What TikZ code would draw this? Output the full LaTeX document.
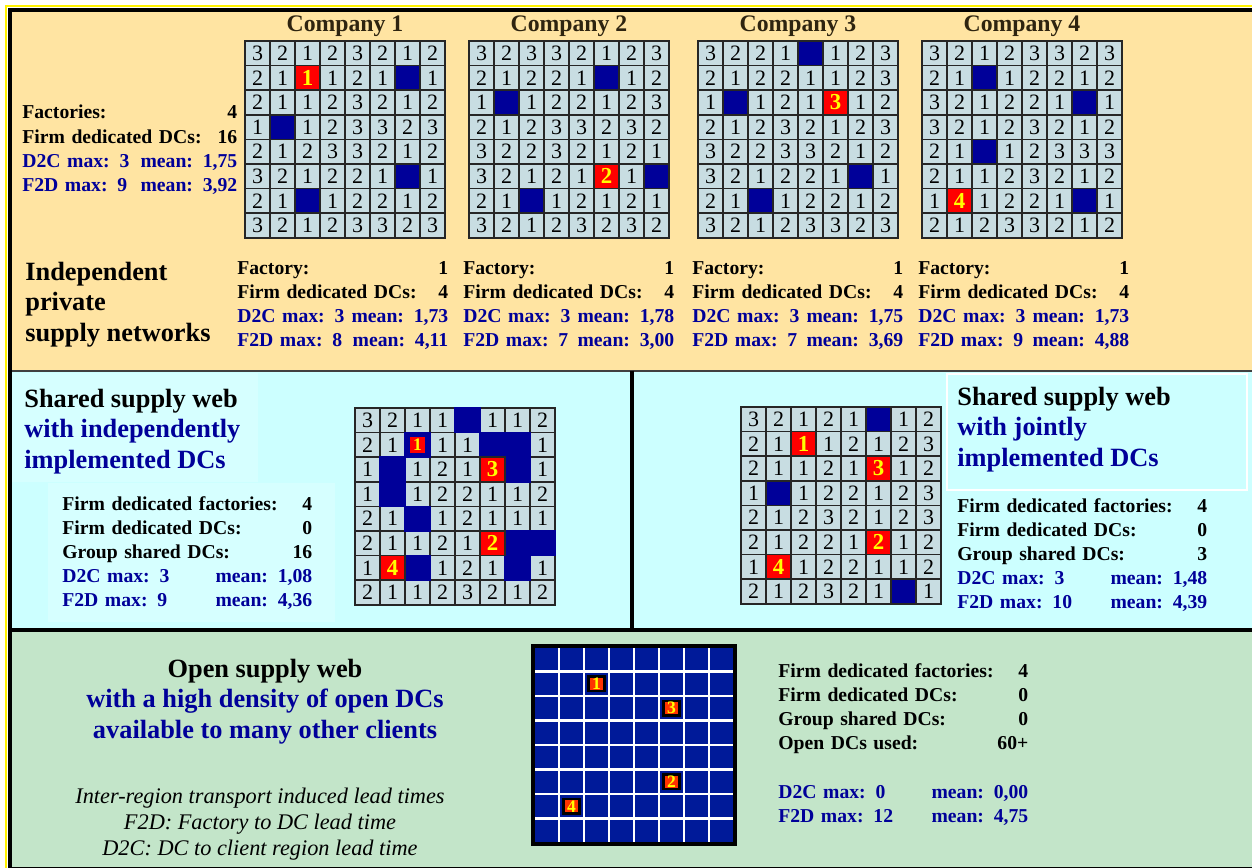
\documentclass[tikz,border=0pt]{standalone}
\usepackage{fontspec}
\setmainfont{Liberation Serif}
\usetikzlibrary{positioning}

\definecolor{topbg}{HTML}{FFE4A2}
\definecolor{midbg}{HTML}{CCFFFF}
\definecolor{midlight}{HTML}{D6FFFF}
\definecolor{botbg}{HTML}{C3E5C9}
\definecolor{cellgray}{HTML}{C8DDE2}
\definecolor{dcblue}{HTML}{000099}
\definecolor{openblue}{HTML}{001A99}
\definecolor{navy}{HTML}{000099}
\definecolor{factred}{HTML}{FF0000}
\definecolor{openred}{HTML}{FF3300}
\definecolor{factyellow}{HTML}{FFFF00}
\definecolor{titlebrown}{HTML}{2E2410}

\tikzset{
    cell/.style = {
        draw=black!85,
        shape=rectangle,
        minimum width=0.5cm,
        minimum height=0.492cm,
        inner sep=0pt,
        line width=0.9pt,
        fill=cellgray,
        font=\fontsize{12.5}{12.5}\selectfont
    },
    dc/.style = {
        cell,
        fill=dcblue
    },
    mergeddc/.style = {
        cell,
        fill=dcblue,
        draw=dcblue
    },
    factory/.style = {
        cell,
        fill=factred,
        text=factyellow,
        font=\bfseries\fontsize{13}{13}\selectfont
    },
    smallfactory/.style = {
        shape=rectangle,
        fill=factred,
        text=factyellow,
        minimum width=0.3cm,
        minimum height=0.32cm,
        inner sep=0pt,
        font=\bfseries\fontsize{10}{10}\selectfont
    },
    opencell/.style = {
        draw=white,
        shape=rectangle,
        line width=1.2pt,
        fill=openblue,
        minimum width=0.5cm,
        minimum height=0.49cm,
        inner sep=0pt
    },
    openfactory/.style = {
        draw=black,
        shape=rectangle,
        line width=1.2pt,
        fill=openred,
        text=factyellow,
        minimum width=0.32cm,
        minimum height=0.29cm,
        inner sep=0pt,
        font=\bfseries\fontsize{10}{10}\selectfont
    },
    company/.style = {
        font=\bfseries\fontsize{13.5}{13.5}\selectfont,
        text=titlebrown,
        inner sep=0pt
    },
    stats/.style = {
        font=\bfseries\fontsize{11.2}{13.8}\selectfont,
        align=left,
        inner sep=0pt,
        anchor=north west
    },
    heading/.style = {
        font=\bfseries\fontsize{15}{17.5}\selectfont,
        align=left,
        inner sep=0pt,
        anchor=north west
    },
    note/.style = {
        font=\itshape\fontsize{12.7}{14.8}\selectfont,
        align=center,
        inner sep=0pt,
        anchor=north
    },
}

% one 8x8 map of regions: name, top left corner, rows (0 = no number), DC cells, DC style
\newcommand{\dcgrid}[5]{%
  \begin{scope}[shift={#2}]
    \foreach \cells [count=\ro] in {#3} {
      \foreach \v [count=\co] in \cells {
        \node[cell] (#1-\ro-\co) at (\co*25-12.5, \ro*24.6-12.3) {\ifnum\v=0 \else\v\fi};
      }
    }
    \foreach \co/\ro in {#4} {
      \node[#5] (#1-\ro-\co) at (\co*25-12.5, \ro*24.6-12.3) {};
    }
  \end{scope}}

\begin{document}
\begin{tikzpicture}[x=0.02cm, y=-0.02cm]

            \useasboundingbox (0,0) rectangle (1252,868);
            \fill[white] (0,0) rectangle (1252,868);
            \fill[topbg] (10,10) rectangle (1252,371);
            \fill[midbg] (10,371) rectangle (1252,630);
            \fill[botbg] (10,630) rectangle (1252,868);
            \fill[midlight] (12,373) rectangle (258,482);
            \fill[midlight] (48,483) rectangle (335,622);
            \draw[white, line width=1pt] (947,374) rectangle (1247,490);

            % independent networks
            \node[company] (title_a) at (345,26) {Company 1};
            \node[company] (title_b) at (569,26) {Company 2};
            \node[company] (title_c) at (798,26) {Company 3};
            \node[company] (title_d) at (1022,26) {Company 4};

            \dcgrid{coa}{(245,41)}{{3,2,1,2,3,2,1,2},{2,1,0,1,2,1,0,1},{2,1,1,2,3,2,1,2},{1,0,1,2,3,3,2,3},{2,1,2,3,3,2,1,2},{3,2,1,2,2,1,0,1},{2,1,0,1,2,2,1,2},{3,2,1,2,3,3,2,3}}{7/2,2/4,7/6,3/7}{dc}
            \dcgrid{cob}{(469,41)}{{3,2,3,3,2,1,2,3},{2,1,2,2,1,0,1,2},{1,0,1,2,2,1,2,3},{2,1,2,3,3,2,3,2},{3,2,2,3,2,1,2,1},{3,2,1,2,1,0,1,0},{2,1,0,1,2,1,2,1},{3,2,1,2,3,2,3,2}}{6/2,2/3,8/6,3/7}{dc}
            \dcgrid{coc}{(698,41)}{{3,2,2,1,0,1,2,3},{2,1,2,2,1,1,2,3},{1,0,1,2,1,0,1,2},{2,1,2,3,2,1,2,3},{3,2,2,3,3,2,1,2},{3,2,1,2,2,1,0,1},{2,1,0,1,2,2,1,2},{3,2,1,2,3,3,2,3}}{5/1,2/3,7/6,3/7}{dc}
            \dcgrid{cod}{(922,41)}{{3,2,1,2,3,3,2,3},{2,1,0,1,2,2,1,2},{3,2,1,2,2,1,0,1},{3,2,1,2,3,2,1,2},{2,1,0,1,2,3,3,3},{2,1,1,2,3,2,1,2},{1,0,1,2,2,1,0,1},{2,1,2,3,3,2,1,2}}{3/2,7/3,3/5,7/7}{dc}

            \node[factory] (fac_a) at (coa-2-3) {1};
            \node[factory] (fac_b) at (cob-6-6) {2};
            \node[factory] (fac_c) at (coc-3-6) {3};
            \node[factory] (fac_d) at (cod-7-2) {4};

            \node[stats, text width=4.3cm] (total_stats) at (22,104.8) {Factories:\hfill 4\\ Firm dedicated DCs:\hfill 16\\ \textcolor{navy}{D2C max: 3~\hfill mean: 1,75}\\ \textcolor{navy}{F2D max: 9~\hfill mean: 3,92}};

            \node[heading] (independent) at (25,261.5) {Independent\\ private\\ supply networks};

            \node[stats, text width=4.22cm] (stats_a) at (237,260.8) {Factory:\hfill 1\\ Firm dedicated DCs:\hfill 4\\ \textcolor{navy}{D2C max: 3~\hfill mean: 1,73}\\ \textcolor{navy}{F2D max: 8~\hfill mean: 4,11}};
            \node[stats, text width=4.22cm] (stats_b) at (463,260.8) {Factory:\hfill 1\\ Firm dedicated DCs:\hfill 4\\ \textcolor{navy}{D2C max: 3~\hfill mean: 1,78}\\ \textcolor{navy}{F2D max: 7~\hfill mean: 3,00}};
            \node[stats, text width=4.22cm] (stats_c) at (692,260.8) {Factory:\hfill 1\\ Firm dedicated DCs:\hfill 4\\ \textcolor{navy}{D2C max: 3~\hfill mean: 1,75}\\ \textcolor{navy}{F2D max: 7~\hfill mean: 3,69}};
            \node[stats, text width=4.22cm] (stats_d) at (918,260.8) {Factory:\hfill 1\\ Firm dedicated DCs:\hfill 4\\ \textcolor{navy}{D2C max: 3~\hfill mean: 1,73}\\ \textcolor{navy}{F2D max: 9~\hfill mean: 4,88}};

            % shared web, independent DCs
            \node[heading] (shared_ind) at (24,388.5) {Shared supply web\\ \textcolor{navy}{with independently}\\ \textcolor{navy}{implemented DCs}};
            \node[stats, text width=5cm] (stats_ind) at (62,495.8) {Firm dedicated factories:\hfill 4\\ Firm dedicated DCs:\hfill 0\\ Group shared DCs:\hfill 16\\ \textcolor{navy}{D2C max: 3\hfill mean: 1,08}\\ \textcolor{navy}{F2D max: 9\hfill mean: 4,36}};

            \dcgrid{ind}{(355,408)}{{3,2,1,1,0,1,1,2},{2,1,0,1,1,0,0,1},{1,0,1,2,1,0,0,1},{1,0,1,2,2,1,1,2},{2,1,0,1,2,1,1,1},{2,1,1,2,1,0,0,0},{1,0,0,1,2,1,0,1},{2,1,1,2,3,2,1,2}}{5/1,3/2,6/2,7/2,2/3,7/3,2/4,3/5,7/6,8/6,3/7,7/7}{mergeddc}

            \node[smallfactory] (ind_f1) at (ind-2-3) {1};
            \node[factory] (ind_f3) at (ind-3-6) {3};
            \node[factory] (ind_f2) at (ind-6-6) {2};
            \node[factory] (ind_f4) at (ind-7-2) {4};

            % shared web, joint DCs
            \node[heading] (shared_joint) at (957,386.5) {Shared supply web\\ \textcolor{navy}{with jointly}\\ \textcolor{navy}{implemented DCs}};
            \node[stats, text width=5cm] (stats_joint) at (957,497.8) {Firm dedicated factories:\hfill 4\\ Firm dedicated DCs:\hfill 0\\ Group shared DCs:\hfill 3\\ \textcolor{navy}{D2C max: 3\hfill mean: 1,48}\\ \textcolor{navy}{F2D max: 10\hfill mean: 4,39}};

            \dcgrid{joint}{(741,407)}{{3,2,1,2,1,0,1,2},{2,1,0,1,2,1,2,3},{2,1,1,2,1,0,1,2},{1,0,1,2,2,1,2,3},{2,1,2,3,2,1,2,3},{2,1,2,2,1,0,1,2},{1,0,1,2,2,1,1,2},{2,1,2,3,2,1,0,1}}{6/1,2/4,7/8}{dc}

            \node[factory] (joint_f1) at (joint-2-3) {1};
            \node[factory] (joint_f3) at (joint-3-6) {3};
            \node[factory] (joint_f2) at (joint-6-6) {2};
            \node[factory] (joint_f4) at (joint-7-2) {4};

            % open web
            \node[heading, align=center, anchor=north] (open_web) at (265,658.5) {Open supply web\\ \textcolor{navy}{with a high density of open DCs}\\ \textcolor{navy}{available to many other clients}};
            \node[note] (lead_times) at (260,788) {Inter-region transport induced lead times\\ F2D: Factory to DC lead time\\ D2C: DC to client region lead time};

            \begin{scope}[shift={(534,647)}]
                \foreach \ro in {1,...,8}
                    \foreach \co in {1,...,8}
                        \node[opencell] (op-\ro-\co) at (\co*25-12.5, \ro*24.5-12.25) {};
            \end{scope}
            \draw[line width=1.8pt] (op-1-1.north west) rectangle (op-8-8.south east);

            \node[openfactory] (op_f1) at (op-2-3) {1};
            \node[openfactory] (op_f3) at (op-3-6) {3};
            \node[openfactory] (op_f2) at (op-6-6) {2};
            \node[openfactory] (op_f4) at (op-7-2) {4};

            \node[stats, text width=5cm] (stats_open) at (778,662.8) {Firm dedicated factories:\hfill 4\\ Firm dedicated DCs:\hfill 0\\ Group shared DCs:\hfill 0\\ Open DCs used:\hfill 60+\\[14pt] \textcolor{navy}{D2C max: 0\hfill mean: 0,00}\\ \textcolor{navy}{F2D max: 12\hfill mean: 4,75}};

            % panel borders
            \draw[black!75, line width=1.2pt] (10,371) -- (1252,371);
            \draw[line width=1.8pt] (10,630) -- (1252,630);
            \draw[line width=1.8pt] (632,371) -- (632,630);
            \draw[yellow, line width=1pt] (6,6) rectangle (1275,880);
            \draw[line width=2.4pt] (10,10) rectangle (1270,869);

        \end{tikzpicture}
\end{document}
